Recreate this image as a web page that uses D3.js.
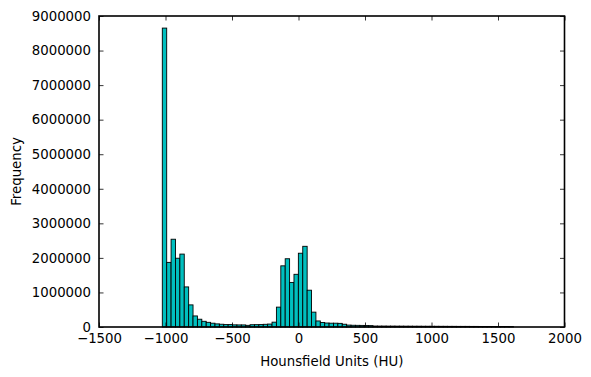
<!DOCTYPE html>
<html>
<head>
<meta charset="utf-8">
<script src="https://cdn.jsdelivr.net/npm/d3@7"></script>
<style>
  body { margin: 0; background: #fff; }
  svg text { font-family: "DejaVu Sans", sans-serif; }
</style>
</head>
<body>
<svg width="591" height="377"></svg>
<script>
// histogram of HU values: 80 bins between histMin and histMax
const histMin = -1024;
const histMax = 1616;
const counts = [
  8650000, 1870000, 2540000, 1990000, 2110000, 1160000, 640000, 320000, 225000, 165000,
  135000, 110000, 90000, 80000, 70000, 70000, 62000, 60000, 60000, 48000,
  66000, 68000, 70000, 78000, 85000, 140000, 575000, 1770000, 1975000, 1290000,
  1525000, 2135000, 2335000, 1065000, 430000, 175000, 130000, 115000, 110000, 110000,
  105000, 80000, 55000, 50000, 48000, 46000, 44000, 40000, 28000, 27000,
  27000, 26000, 26000, 25000, 25000, 24000, 24000, 23000, 23000, 22000,
  22000, 21000, 21000, 20000, 20000, 19000, 19000, 18000, 18000, 18000,
  17000, 17000, 16000, 16000, 16000, 15000, 15000, 14000, 14000, 13000
];
const xTicks = [-1500, -1000, -500, 0, 500, 1000, 1500, 2000];
const yTicks = [0, 1000000, 2000000, 3000000, 4000000, 5000000, 6000000, 7000000, 8000000, 9000000];

const svg = d3.select("svg");
const margin = { top: 16, right: 26.5, bottom: 50, left: 99 };
const width = 591 - margin.left - margin.right;
const height = 377 - margin.top - margin.bottom;
const g = svg.append("g").attr("transform", `translate(${margin.left},${margin.top})`);

const x = d3.scaleLinear().domain([-1500, 2000]).range([0, width]);
const y = d3.scaleLinear().domain([0, 9000000]).range([height, 0]);
const edge = d3.scaleLinear().domain([0, counts.length]).range([histMin, histMax]);

g.selectAll(".bar")
  .data(counts)
  .enter().append("rect")
  .attr("class", "bar")
  .attr("x", (d, i) => x(edge(i)))
  .attr("width", (d, i) => x(edge(i + 1)) - x(edge(i)))
  .attr("y", d => y(d))
  .attr("height", d => height - y(d))
  .attr("fill", "#00bfbf")
  .attr("stroke", "#000")
  .attr("stroke-width", 0.9);

const fmt = d3.format("d");
const tickLen = 4.5;

// ticks pointing inward on all four sides
const xb = g.append("g").attr("transform", `translate(0,${height})`)
  .call(d3.axisBottom(x).tickValues(xTicks).tickSize(-tickLen).tickPadding(7).tickFormat(d => d < 0 ? "\u2212" + Math.abs(d) : d));
const xt = g.append("g")
  .call(d3.axisTop(x).tickValues(xTicks).tickSize(-tickLen).tickFormat(""));
const yl = g.append("g")
  .call(d3.axisLeft(y).tickValues(yTicks).tickSize(-tickLen).tickPadding(8).tickFormat(fmt));
const yr = g.append("g").attr("transform", `translate(${width},0)`)
  .call(d3.axisRight(y).tickValues(yTicks).tickSize(-tickLen).tickFormat(""));

[xb, xt, yl, yr].forEach(a => {
  a.select(".domain").remove();
  a.selectAll(".tick line").attr("stroke", "#000").attr("stroke-width", 0.8);
  a.selectAll(".tick text").attr("font-size", "13.3px").attr("fill", "#000");
});

g.append("rect")
  .attr("width", width)
  .attr("height", height)
  .attr("fill", "none")
  .attr("stroke", "#000")
  .attr("stroke-width", 1.6);

g.append("text")
  .attr("transform", `translate(${width / 2},${height + 39})`)
  .attr("text-anchor", "middle")
  .attr("font-size", "13.3px")
  .text("Hounsfield Units (HU)");

g.append("text")
  .attr("transform", `translate(${-margin.left + 21},${height / 2}) rotate(-90)`)
  .attr("text-anchor", "middle")
  .attr("font-size", "13.3px")
  .text("Frequency");
</script>
</body>
</html>
